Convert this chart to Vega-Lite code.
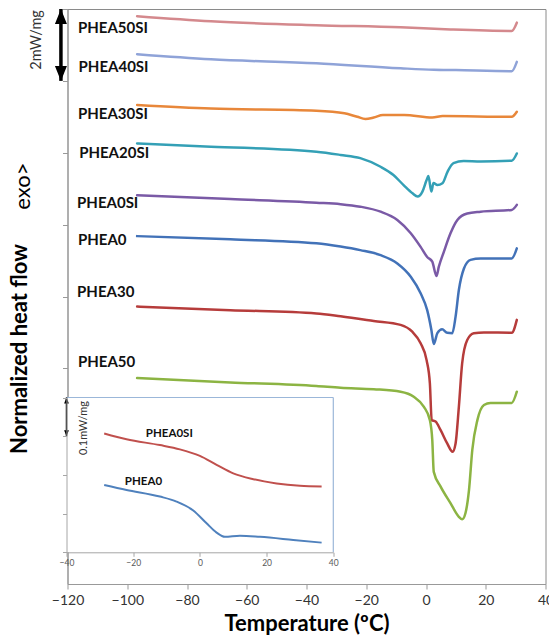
{
  "$schema": "https://vega.github.io/schema/vega-lite/v6.json",
  "width": 478,
  "height": 575,
  "autosize": {"type": "none"},
  "padding": {"left": 67.5, "top": 9, "right": 3.5, "bottom": 57},
  "config": {"font": "Lato", "view": {"stroke": "#8a8a8a", "strokeWidth": 1}},
  "datasets": {
    "curves": [
      {"s":"PHEA50SI","T":-96.7,"hf":15.80},{"s":"PHEA50SI","T":-72,"hf":15.66},{"s":"PHEA50SI","T":-36.7,"hf":15.55},{"s":"PHEA50SI","T":-8.5,"hf":15.49},{"s":"PHEA50SI","T":8.2,"hf":15.43},{"s":"PHEA50SI","T":28.7,"hf":15.39},{"s":"PHEA50SI","T":30.4,"hf":15.62},
      {"s":"PHEA40SI","T":-96.7,"hf":14.74},{"s":"PHEA40SI","T":-72,"hf":14.60},{"s":"PHEA40SI","T":-36.7,"hf":14.49},{"s":"PHEA40SI","T":-8.5,"hf":14.35},{"s":"PHEA40SI","T":2.6,"hf":14.31},{"s":"PHEA40SI","T":10,"hf":14.30},{"s":"PHEA40SI","T":28.7,"hf":14.27},{"s":"PHEA40SI","T":30.4,"hf":14.53},
      {"s":"PHEA30SI","T":-96.7,"hf":13.33},{"s":"PHEA30SI","T":-72,"hf":13.23},{"s":"PHEA30SI","T":-36.7,"hf":13.17},{"s":"PHEA30SI","T":-27.3,"hf":13.10},{"s":"PHEA30SI","T":-23,"hf":13.00},{"s":"PHEA30SI","T":-20.3,"hf":12.94},{"s":"PHEA30SI","T":-17.5,"hf":12.98},{"s":"PHEA30SI","T":-14.4,"hf":13.05},{"s":"PHEA30SI","T":-7.3,"hf":13.05},{"s":"PHEA30SI","T":2.1,"hf":12.98},{"s":"PHEA30SI","T":5.6,"hf":13.02},{"s":"PHEA30SI","T":28.7,"hf":13.00},{"s":"PHEA30SI","T":30.4,"hf":13.14},
      {"s":"PHEA20SI","T":-96.7,"hf":12.26},{"s":"PHEA20SI","T":-72,"hf":12.17},{"s":"PHEA20SI","T":-36.7,"hf":12.03},{"s":"PHEA20SI","T":-28.6,"hf":11.94},{"s":"PHEA20SI","T":-22.0,"hf":11.85},{"s":"PHEA20SI","T":-15.2,"hf":11.61},{"s":"PHEA20SI","T":-10.9,"hf":11.38},{"s":"PHEA20SI","T":-7.5,"hf":11.10},{"s":"PHEA20SI","T":-4.5,"hf":10.87},{"s":"PHEA20SI","T":-2.8,"hf":10.78},{"s":"PHEA20SI","T":-1.2,"hf":10.92},{"s":"PHEA20SI","T":0.2,"hf":11.24},{"s":"PHEA20SI","T":0.8,"hf":11.35},{"s":"PHEA20SI","T":1.8,"hf":10.92},{"s":"PHEA20SI","T":2.5,"hf":11.16},{"s":"PHEA20SI","T":3.8,"hf":11.10},{"s":"PHEA20SI","T":5.5,"hf":11.15},{"s":"PHEA20SI","T":7.2,"hf":11.47},{"s":"PHEA20SI","T":9.2,"hf":11.71},{"s":"PHEA20SI","T":12.6,"hf":11.77},{"s":"PHEA20SI","T":18.3,"hf":11.76},{"s":"PHEA20SI","T":28.7,"hf":11.78},{"s":"PHEA20SI","T":30.4,"hf":11.98},
      {"s":"PHEA0SI","T":-96.7,"hf":10.82},{"s":"PHEA0SI","T":-65.5,"hf":10.71},{"s":"PHEA0SI","T":-36.7,"hf":10.61},{"s":"PHEA0SI","T":-28.6,"hf":10.57},{"s":"PHEA0SI","T":-22,"hf":10.50},{"s":"PHEA0SI","T":-15.2,"hf":10.36},{"s":"PHEA0SI","T":-9.6,"hf":10.13},{"s":"PHEA0SI","T":-5.1,"hf":9.76},{"s":"PHEA0SI","T":-1.8,"hf":9.38},{"s":"PHEA0SI","T":0.4,"hf":9.10},{"s":"PHEA0SI","T":2.1,"hf":8.97},{"s":"PHEA0SI","T":3.5,"hf":8.57},{"s":"PHEA0SI","T":4.3,"hf":8.83},{"s":"PHEA0SI","T":6.0,"hf":9.25},{"s":"PHEA0SI","T":8.2,"hf":9.76},{"s":"PHEA0SI","T":10.5,"hf":10.13},{"s":"PHEA0SI","T":13.8,"hf":10.31},{"s":"PHEA0SI","T":18.3,"hf":10.36},{"s":"PHEA0SI","T":28.7,"hf":10.41},{"s":"PHEA0SI","T":30.4,"hf":10.55},
      {"s":"PHEA0","T":-96.7,"hf":9.68},{"s":"PHEA0","T":-65.5,"hf":9.59},{"s":"PHEA0","T":-36.7,"hf":9.48},{"s":"PHEA0","T":-28.6,"hf":9.39},{"s":"PHEA0","T":-22,"hf":9.29},{"s":"PHEA0","T":-15.2,"hf":9.15},{"s":"PHEA0","T":-9.6,"hf":8.92},{"s":"PHEA0","T":-5.1,"hf":8.55},{"s":"PHEA0","T":-1.8,"hf":8.09},{"s":"PHEA0","T":0.4,"hf":7.62},{"s":"PHEA0","T":1.8,"hf":7.07},{"s":"PHEA0","T":2.6,"hf":6.68},{"s":"PHEA0","T":3.8,"hf":6.98},{"s":"PHEA0","T":5.4,"hf":7.09},{"s":"PHEA0","T":7.1,"hf":6.99},{"s":"PHEA0","T":8.8,"hf":6.98},{"s":"PHEA0","T":9.9,"hf":7.44},{"s":"PHEA0","T":11.0,"hf":8.18},{"s":"PHEA0","T":12.7,"hf":8.78},{"s":"PHEA0","T":14.9,"hf":9.02},{"s":"PHEA0","T":18.3,"hf":9.06},{"s":"PHEA0","T":28.7,"hf":9.06},{"s":"PHEA0","T":30.4,"hf":9.34},
      {"s":"PHEA30","T":-96.7,"hf":7.72},{"s":"PHEA30","T":-65.5,"hf":7.62},{"s":"PHEA30","T":-36.7,"hf":7.53},{"s":"PHEA30","T":-28.6,"hf":7.45},{"s":"PHEA30","T":-17.5,"hf":7.32},{"s":"PHEA30","T":-8.5,"hf":7.21},{"s":"PHEA30","T":-4.6,"hf":7.02},{"s":"PHEA30","T":-1.8,"hf":6.70},{"s":"PHEA30","T":0.2,"hf":6.23},{"s":"PHEA30","T":1.3,"hf":5.58},{"s":"PHEA30","T":1.9,"hf":4.56},{"s":"PHEA30","T":3.2,"hf":4.52},{"s":"PHEA30","T":4.9,"hf":4.28},{"s":"PHEA30","T":7.1,"hf":3.91},{"s":"PHEA30","T":8.9,"hf":3.68},{"s":"PHEA30","T":9.9,"hf":3.91},{"s":"PHEA30","T":11.0,"hf":4.93},{"s":"PHEA30","T":12.1,"hf":6.14},{"s":"PHEA30","T":13.8,"hf":6.79},{"s":"PHEA30","T":16.0,"hf":6.98},{"s":"PHEA30","T":19.4,"hf":7.00},{"s":"PHEA30","T":28.7,"hf":6.99},{"s":"PHEA30","T":30.4,"hf":7.35},
      {"s":"PHEA50","T":-96.7,"hf":5.73},{"s":"PHEA50","T":-65.5,"hf":5.61},{"s":"PHEA50","T":-36.7,"hf":5.51},{"s":"PHEA50","T":-28.6,"hf":5.46},{"s":"PHEA50","T":-17.5,"hf":5.42},{"s":"PHEA50","T":-8.5,"hf":5.35},{"s":"PHEA50","T":-4.1,"hf":5.21},{"s":"PHEA50","T":-0.7,"hf":4.93},{"s":"PHEA50","T":1.3,"hf":4.56},{"s":"PHEA50","T":2.1,"hf":4.01},{"s":"PHEA50","T":2.6,"hf":3.12},{"s":"PHEA50","T":4.9,"hf":2.71},{"s":"PHEA50","T":8.2,"hf":2.25},{"s":"PHEA50","T":11.0,"hf":1.87},{"s":"PHEA50","T":12.1,"hf":1.80},{"s":"PHEA50","T":13.2,"hf":1.97},{"s":"PHEA50","T":14.4,"hf":2.62},{"s":"PHEA50","T":15.5,"hf":3.73},{"s":"PHEA50","T":17.2,"hf":4.56},{"s":"PHEA50","T":19.4,"hf":4.98},{"s":"PHEA50","T":21.6,"hf":5.04},{"s":"PHEA50","T":28.7,"hf":5.04},{"s":"PHEA50","T":30.4,"hf":5.35}
    ],
    "labels": [
      {"s":"PHEA50SI","T":-116.5,"hf":15.47},
      {"s":"PHEA40SI","T":-116.3,"hf":14.39},
      {"s":"PHEA30SI","T":-116.5,"hf":13.08},
      {"s":"PHEA20SI","T":-116.1,"hf":12.0},
      {"s":"PHEA0SI","T":-116.8,"hf":10.61},
      {"s":"PHEA0","T":-116.5,"hf":9.57},
      {"s":"PHEA30","T":-116.8,"hf":8.13},
      {"s":"PHEA50","T":-116.5,"hf":6.17}
    ],
    "arrow": [
      {"T":-122.2,"hf":16,"end":"top"},
      {"T":-122.2,"hf":14,"end":"bottom"}
    ],
    "unitNote": [{"label":"2mW/mg","T":-130.3,"hf":15.14}],
    "exoNote": [{"label":"exo>","T":-135.0,"hf":11.07}],
    "insetFrame": [{"t":-40,"t2":40,"v":0,"v2":0.4}],
    "insetBorder": [
      {"t":-40,"t2":40,"v":0.4,"v2":0.4},
      {"t":40,"t2":40,"v":0,"v2":0.4}
    ],
    "inset": [
      {"s":"PHEA0SI","t":-28.7,"v":0.307},{"s":"PHEA0SI","t":-22,"v":0.292},{"s":"PHEA0SI","t":-12,"v":0.277},{"s":"PHEA0SI","t":-6,"v":0.266},{"s":"PHEA0SI","t":0,"v":0.249},{"s":"PHEA0SI","t":5,"v":0.226},{"s":"PHEA0SI","t":10,"v":0.204},{"s":"PHEA0SI","t":16,"v":0.189},{"s":"PHEA0SI","t":23,"v":0.178},{"s":"PHEA0SI","t":30,"v":0.172},{"s":"PHEA0SI","t":36.5,"v":0.170},
      {"s":"PHEA0","t":-28.7,"v":0.174},{"s":"PHEA0","t":-22,"v":0.161},{"s":"PHEA0","t":-12,"v":0.144},{"s":"PHEA0","t":-7,"v":0.131},{"s":"PHEA0","t":-2,"v":0.108},{"s":"PHEA0","t":2,"v":0.075},{"s":"PHEA0","t":5,"v":0.051},{"s":"PHEA0","t":7.5,"v":0.040},{"s":"PHEA0","t":12,"v":0.043},{"s":"PHEA0","t":18,"v":0.040},{"s":"PHEA0","t":28,"v":0.032},{"s":"PHEA0","t":36.5,"v":0.025}
    ],
    "insetLabels": [
      {"s":"PHEA0SI","t":-16.2,"v":0.305},
      {"s":"PHEA0","t":-22.5,"v":0.182}
    ],
    "insetArrow": [
      {"t":-40,"v":0.4,"end":"top"},
      {"t":-40,"v":0.3,"end":"bottom"}
    ]
  },
  "layer": [
    {
      "encoding": {
        "x": {"field": "T", "type": "quantitative",
          "scale": {"domain": [-120, 40], "nice": false},
          "axis": {"values": [-120,-100,-80,-60,-40,-20,0,20,40], "title": "Temperature (ºC)", "titleFontSize": 22, "titleFontWeight": "bold", "titleColor": "#000000", "titlePadding": 6, "labelFontSize": 14, "labelColor": "#333333", "labelPadding": 4, "labelFlush": false, "tickColor": "#999999", "tickSize": 5, "domainColor": "#999999", "grid": false}},
        "y": {"field": "hf", "type": "quantitative",
          "scale": {"domain": [0, 16], "nice": false, "zero": false},
          "axis": {"values": [6,8,10,12,14,16], "labels": false, "tickColor": "#999999", "tickSize": 5, "domainColor": "#999999", "grid": false, "title": "Normalized heat flow", "titleFontSize": 22, "titleFontWeight": "bold", "titleColor": "#000000", "titleX": -48.5, "titleY": 339.5, "titleAngle": 270, "titleAlign": "center", "titleBaseline": "middle"}}
      },
      "layer": [
        {
          "data": {"name": "curves"},
          "mark": {"type": "line", "strokeWidth": 2.5, "interpolate": "monotone", "strokeCap": "round", "strokeJoin": "round"},
          "encoding": {
            "color": {"field": "s", "type": "nominal", "legend": null,
              "scale": {"domain": ["PHEA50SI","PHEA40SI","PHEA30SI","PHEA20SI","PHEA0SI","PHEA0","PHEA30","PHEA50"],
                        "range": ["#d4898d","#8fa3d8","#e8873a","#34a0b6","#7a5aa6","#4272b8","#b63c3b","#8cb443"]}}
          }
        },
        {
          "data": {"name": "labels"},
          "mark": {"type": "text", "align": "left", "baseline": "middle", "fontWeight": "bold", "fontSize": 15, "color": "#111111"},
          "encoding": {"text": {"field": "s"}}
        },
        {
          "data": {"name": "arrow"},
          "mark": {"type": "line", "strokeWidth": 3.5, "color": "#000000"},
          "encoding": {}
        },
        {
          "data": {"name": "arrow"},
          "mark": {"type": "point", "filled": true, "color": "#000000", "size": 225, "opacity": 1},
          "encoding": {
            "shape": {"field": "end", "type": "nominal", "legend": null,
              "scale": {"domain": ["top","bottom"], "range": ["M0,0L-0.8,2L0.8,2Z","M0,0L-0.8,-2L0.8,-2Z"]}}
          }
        },
        {
          "data": {"name": "unitNote"},
          "mark": {"type": "text", "angle": 270, "align": "center", "baseline": "middle", "fontSize": 14.5, "color": "#333333"},
          "encoding": {"text": {"field": "label"}}
        },
        {
          "data": {"name": "exoNote"},
          "mark": {"type": "text", "angle": 270, "align": "center", "baseline": "middle", "fontSize": 22, "color": "#000000"},
          "encoding": {"text": {"field": "label"}}
        }
      ]
    },
    {
      "encoding": {
        "x": {"field": "t", "type": "quantitative",
          "scale": {"domain": [-40, 40], "range": [-1, 265.8], "nice": false},
          "axis": {"orient": "bottom", "offset": -31.7, "values": [-40,-20,0,20,40], "title": null, "labelFontSize": 8.5, "labelColor": "#595959", "labelFlush": false, "labelPadding": 2, "tickColor": "#a6a6a6", "tickSize": 4, "domainColor": "#a6a6a6", "grid": false, "zindex": 1}},
        "y": {"field": "v", "type": "quantitative",
          "scale": {"domain": [0, 0.4], "range": [543.3, 388.5], "nice": false, "zero": false},
          "axis": {"orient": "left", "offset": 1, "values": [0,0.1,0.2,0.3,0.4], "labels": false, "tickColor": "#a6a6a6", "tickSize": 4, "domainColor": "#a6a6a6", "grid": false, "zindex": 1, "title": "0.1mW/mg", "titleFontSize": 11, "titleFontWeight": "normal", "titleColor": "#333333", "titleX": 16.8, "titleY": 418.5, "titleAngle": 270, "titleAlign": "center", "titleBaseline": "middle"}}
      },
      "layer": [
        {
          "data": {"name": "insetFrame"},
          "mark": {"type": "rect", "color": "#ffffff", "opacity": 1},
          "encoding": {"x2": {"field": "t2"}, "y2": {"field": "v2"}}
        },
        {
          "data": {"name": "insetBorder"},
          "mark": {"type": "rule", "color": "#9bb7d9", "strokeWidth": 1.2},
          "encoding": {"x2": {"field": "t2"}, "y2": {"field": "v2"}}
        },
        {
          "data": {"name": "inset"},
          "mark": {"type": "line", "strokeWidth": 2, "interpolate": "monotone"},
          "encoding": {
            "color": {"field": "s", "type": "nominal", "legend": null,
              "scale": {"domain": ["PHEA0SI","PHEA0"], "range": ["#c0504d","#4f81bd"]}}
          }
        },
        {
          "data": {"name": "insetLabels"},
          "mark": {"type": "text", "align": "left", "baseline": "middle", "fontWeight": "bold", "fontSize": 11.5, "color": "#111111"},
          "encoding": {"text": {"field": "s"}}
        },
        {
          "data": {"name": "insetArrow"},
          "mark": {"type": "line", "strokeWidth": 1.5, "color": "#000000"},
          "encoding": {}
        },
        {
          "data": {"name": "insetArrow"},
          "mark": {"type": "point", "filled": true, "color": "#000000", "size": 36, "opacity": 1},
          "encoding": {
            "shape": {"field": "end", "type": "nominal", "legend": null,
              "scale": {"domain": ["top","bottom"], "range": ["M0,0L-0.8,2L0.8,2Z","M0,0L-0.8,-2L0.8,-2Z"]}}
          }
        }
      ]
    }
  ],
  "resolve": {"scale": {"x": "independent", "y": "independent", "color": "independent", "shape": "independent"}}
}
